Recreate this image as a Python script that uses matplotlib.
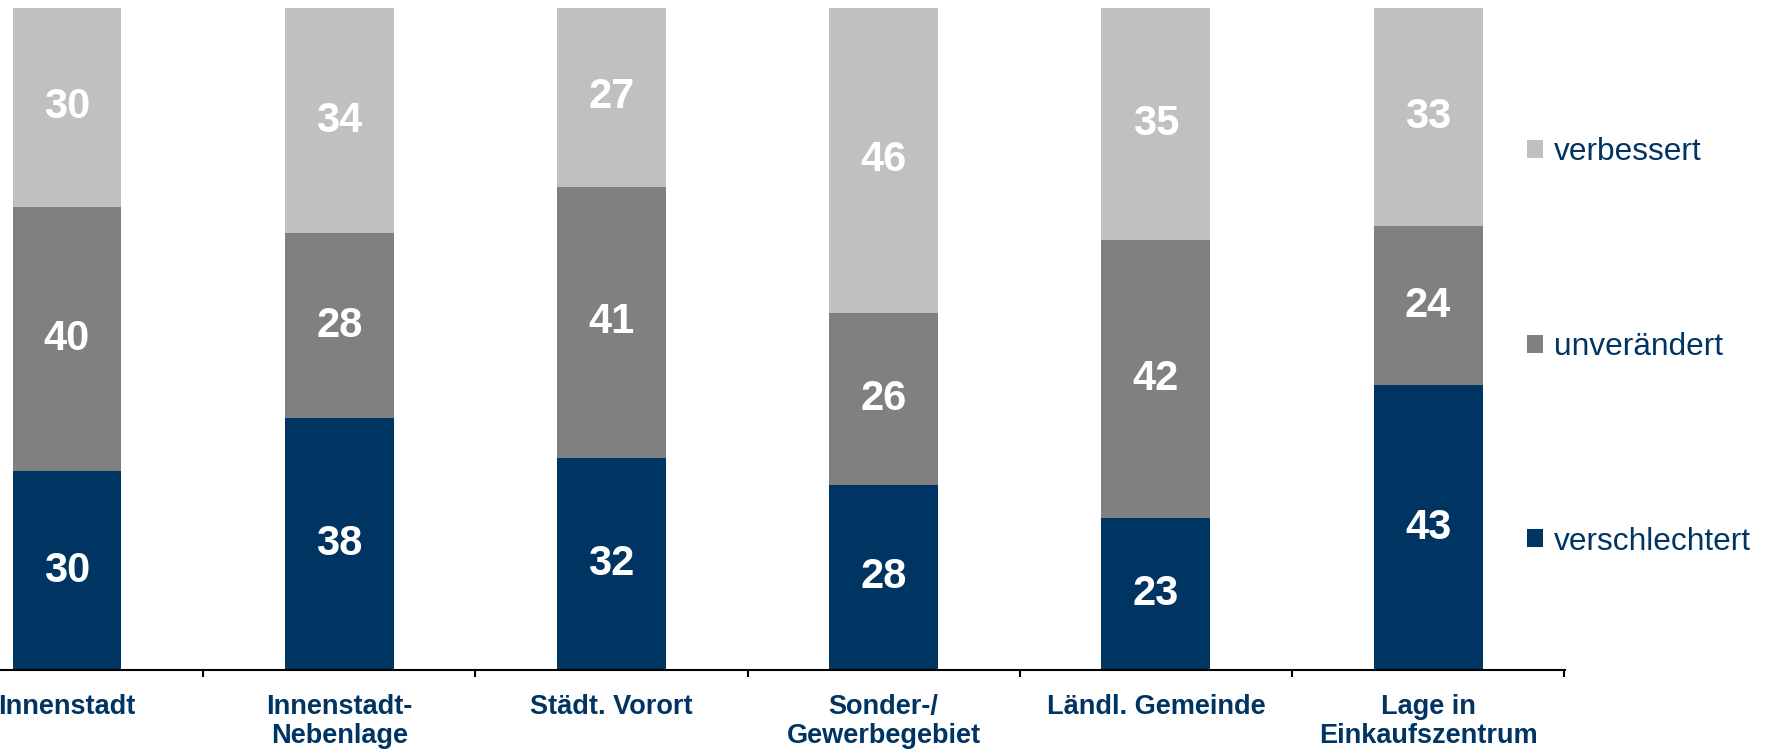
import matplotlib
matplotlib.use("Agg")
import matplotlib.pyplot as plt
import numpy as np
from matplotlib.patches import Patch
from matplotlib.ticker import FixedLocator

plt.rcParams["font.family"] = ["Liberation Sans", "DejaVu Sans"]

# Data (percent shares per location)
categories = ["Innenstadt", "Innenstadt-\nNebenlage", "Städt. Vorort",
              "Sonder-/\nGewerbegebiet", "Ländl. Gemeinde", "Lage in\nEinkaufszentrum"]
verschlechtert = [30, 38, 32, 28, 23, 43]
unveraendert = [40, 28, 41, 26, 42, 24]
verbessert = [30, 34, 27, 46, 35, 33]

navy = "#003462"
series = [
    ("verschlechtert", verschlechtert, navy),
    ("unverändert", unveraendert, "#808080"),
    ("verbessert", verbessert, "#C0C0C0"),
]

fig = plt.figure(figsize=(17.7, 7.54), dpi=100)
ax = fig.add_axes([0, 1 - 670 / 754, 1565 / 1770, 662 / 754])

x = np.arange(len(categories))
bottom = np.zeros(len(categories))
handles = []
for name, vals, col in series:
    vals = np.array(vals, dtype=float)
    ax.bar(x, vals, width=0.4, bottom=bottom, color=col, linewidth=0)
    for xi, b, v in zip(x, bottom, vals):
        ax.text(xi, b + v / 2, f"{v:.0f}", ha="center", va="center",
                color="white", fontsize=30, fontweight="bold")
    bottom += vals
    handles.append(Patch(facecolor=col, edgecolor="none", label=name))

ax.set_xlim(-0.246, 5.503)
ax.set_ylim(0, 100)

# Axes styling
for s in ["top", "right", "left"]:
    ax.spines[s].set_visible(False)
ax.spines["bottom"].set_linewidth(1.5)
ax.spines["bottom"].set_color("black")
ax.set_yticks([])

ax.set_xticks(x)
ax.set_xticklabels(categories, fontsize=19.5, fontweight="bold", color=navy,
                   linespacing=1.15)
ax.tick_params(axis="x", which="major", length=0, pad=17)
ax.xaxis.set_minor_locator(FixedLocator(x + 0.5))
ax.tick_params(axis="x", which="minor", length=5, width=1.5, direction="out")

# Legend, top to bottom: verbessert, unverändert, verschlechtert
leg = fig.legend(handles=handles[::-1], loc="center left",
                 bbox_to_anchor=(1527 / 1770, 1 - 347 / 754),
                 frameon=False, fontsize=22.8, handlelength=0.5, handleheight=0.5,
                 handletextpad=0.35, labelspacing=5.2, borderpad=0, borderaxespad=0)
for t in leg.get_texts():
    t.set_color(navy)

fig.savefig("out.png", dpi=100)
